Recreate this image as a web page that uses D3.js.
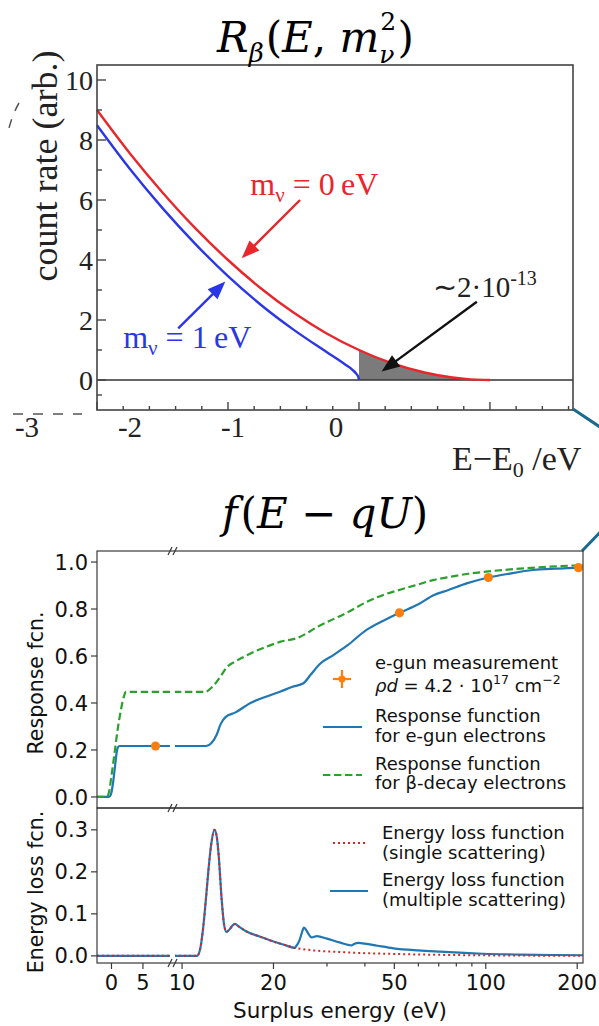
<!DOCTYPE html>
<html><head><meta charset="utf-8">
<script src="https://cdn.jsdelivr.net/npm/d3@7"></script>
<style>body{margin:0;background:#fff} svg{display:block}</style>
</head><body><svg id="c" width="599" height="1026"></svg>
<script>
// ================= DATA =================
// Top panel: beta spectrum near endpoint (E - E0 in eV, count rate arb.)
const specE0 = [-3, -2.75, -2.5, -2.25, -2, -1.75, -1.5, -1.25, -1, -0.75, -0.5, -0.3, -0.15, -0.05, 0];
const rateM0 = [9.0, 7.56, 6.25, 5.06, 4.0, 3.06, 2.25, 1.56, 1.0, 0.56, 0.25, 0.09, 0.02, 0.003, 0];
const specE1 = [-3, -2.75, -2.5, -2.25, -2, -1.75, -1.5, -1.25, -1.1, -1.05, -1.02, -1.005, -1];
const rateM1 = [8.49, 7.04, 5.73, 4.54, 3.46, 2.51, 1.68, 0.94, 0.50, 0.34, 0.205, 0.10, 0];
const topYTicks = [0, 2, 4, 6, 8, 10];
const topYMinor = [-0.5, 1, 3, 5, 7, 9];
const topXMajor = [-3, -2, -1, 0];
const topXMinor = [-2.8,-2.6,-2.4,-2.2,-1.8,-1.6,-1.4,-1.2,-0.8,-0.6,-0.4,-0.2,0.2,0.4,0.6];
const topXLabels = ["-3", "-2", "-1", "0"];
const topXLabelVals = [-3, -2, -1, 0];

// Bottom panel: response function (surplus energy eV)
const respGunE = [-2.3, -0.5, -0.2, 0, 0.3, 0.6, 0.8, 1.0, 1.3, 9.4, 12.0, 12.5, 13.0, 13.4, 13.9, 15.0, 16.8, 19.0, 21.0, 23.0, 25.1, 26.5, 28.6, 31.5, 35.0, 40.5, 46.0, 52.0, 60.0, 67.3, 75.0, 86.5, 102, 120, 143, 170, 202, 209];
const respGun  = [0, 0, 0.004, 0.02, 0.07, 0.14, 0.185, 0.21, 0.217, 0.217, 0.217, 0.23, 0.265, 0.31, 0.34, 0.36, 0.40, 0.428, 0.448, 0.468, 0.484, 0.52, 0.569, 0.604, 0.645, 0.711, 0.75, 0.784, 0.82, 0.859, 0.88, 0.909, 0.934, 0.951, 0.966, 0.972, 0.976, 0.977];
const respBetaE = [-2.3, -0.7, -0.4, 0, 0.5, 1.0, 1.5, 2.0, 2.3, 9.4, 11.9, 12.5, 13.0, 13.5, 14.0, 15.0, 16.0, 17.0, 19.0, 21.0, 24.5, 25.1, 28.0, 31.5, 35.0, 40.5, 46.0, 52.5, 60.0, 67.0, 77.0, 86.5, 100, 130, 160, 209];
const respBeta  = [0, 0, 0.02, 0.09, 0.19, 0.29, 0.37, 0.43, 0.447, 0.447, 0.447, 0.465, 0.49, 0.52, 0.55, 0.577, 0.597, 0.614, 0.64, 0.66, 0.682, 0.689, 0.725, 0.757, 0.785, 0.83, 0.86, 0.883, 0.905, 0.923, 0.938, 0.949, 0.959, 0.972, 0.98, 0.987];
const eGunE = [7, 52, 102, 202];
const eGunV = [0.217, 0.784, 0.934, 0.976];

// Energy loss functions
const lossSingleE = [-2.3, 9.4, 11.2, 11.5, 11.75, 12.0, 12.2, 12.5, 12.78, 13.0, 13.2, 13.5, 13.75, 14.0, 14.3, 14.7, 14.95, 15.3, 16.3, 18, 20, 22, 23.5, 25, 28, 32, 40, 50, 70, 100, 150, 209];
const lossSingle  = [0, 0, 0, 0.02, 0.07, 0.14, 0.2, 0.27, 0.30, 0.285, 0.24, 0.135, 0.075, 0.057, 0.062, 0.073, 0.076, 0.071, 0.058, 0.046, 0.034, 0.025, 0.019, 0.016, 0.012, 0.0095, 0.0065, 0.0045, 0.0025, 0.0012, 0.0005, 0.0002];
const lossMultiE = [-2.3, 9.4, 11.2, 11.5, 11.75, 12.0, 12.2, 12.5, 12.78, 13.0, 13.2, 13.5, 13.75, 14.0, 14.3, 14.7, 14.95, 15.3, 16.3, 18, 20, 22, 23.5, 23.7, 24.3, 24.8, 25.2, 25.6, 26.2, 26.7, 27.8, 30, 33, 36.2, 37, 38.1, 40, 44, 49.7, 60, 70.7, 85, 98, 130, 170, 209];
const lossMulti  = [0, 0, 0, 0.02, 0.07, 0.14, 0.2, 0.27, 0.30, 0.285, 0.24, 0.135, 0.075, 0.057, 0.062, 0.073, 0.076, 0.071, 0.058, 0.046, 0.034, 0.025, 0.019, 0.022, 0.035, 0.055, 0.067, 0.062, 0.05, 0.044, 0.047, 0.041, 0.032, 0.025, 0.029, 0.031, 0.029, 0.024, 0.018, 0.013, 0.01, 0.007, 0.005, 0.003, 0.002, 0.0015];

const respYTicks = [0, 0.2, 0.4, 0.6, 0.8, 1.0];
const lossYTicks = [0, 0.1, 0.2, 0.3];
const xTicksLin = [0, 5];
const xTicksLog = [10, 20, 50, 100, 200];
const xMinorLog = [30, 40, 60, 70, 80, 90];

// ================= DRAW =================
const svg = d3.select("#c");
const SERIF = "'Liberation Serif','Times New Roman',serif";
const MATH = "'DejaVu Serif',serif";
const SANS = "'DejaVu Sans',sans-serif";
const zip = (a, b) => a.map((v, i) => ({e: v, v: b[i]}));

function arrow(g, x1, y1, x2, y2, color) {
  const dx = x2 - x1, dy = y2 - y1, L = Math.hypot(dx, dy), ux = dx / L, uy = dy / L;
  const hl = 18, hw = 7;
  const bx = x2 - ux * hl, by = y2 - uy * hl;
  g.append("line").attr("x1", x1).attr("y1", y1).attr("x2", bx + ux * 2).attr("y2", by + uy * 2)
    .attr("stroke", color).attr("stroke-width", 2.4);
  g.append("path").attr("d", `M${x2},${y2}L${bx - uy * hw},${by + ux * hw}L${bx + uy * hw},${by - ux * hw}Z`).attr("fill", color);
}

// ---------- Top panel ----------
const xT = d3.scaleLinear().domain([-3, 0.634]).range([97, 573]);
const yT = d3.scaleLinear().domain([-1, 10.5]).range([410, 65]);
const xLab = d3.scaleLinear().domain([-3, 0]).range([27, 336]);
const gT = svg.append("g");

// title
const t1 = svg.append("text").attr("x", 217).attr("y", 52).attr("font-family", MATH).attr("font-size", 42).attr("fill", "#000");
t1.append("tspan").attr("font-style", "italic").text("R");
t1.append("tspan").attr("font-style", "italic").attr("font-size", 26).attr("dy", 10).text("β");
t1.append("tspan").attr("dy", -10).attr("dx", 2).text("(");
t1.append("tspan").attr("font-style", "italic").text("E");
t1.append("tspan").text(", ");
t1.append("tspan").attr("font-style", "italic").text("m");
t1.append("tspan").attr("font-style", "italic").attr("font-size", 25).attr("dy", 11).text("ν");
t1.append("tspan").attr("dy", -11).attr("dx", 3).text(")");
const sup2 = svg.append("text").attr("font-family", MATH).attr("font-size", 25).attr("fill", "#000").text("2");
{
  const nodes = t1.selectAll("tspan").nodes();
  let idx = 0; for (let i = 0; i < 6; i++) idx += nodes[i].textContent.length;
  const p = t1.node().getStartPositionOfChar(idx);
  sup2.attr("x", p.x + 1).attr("y", 30);
}

// shaded area
const shaded = zip(specE0, rateM0).filter(d => d.e >= -1);
gT.append("path").datum(shaded)
  .attr("d", d3.area().x(d => xT(d.e)).y0(yT(0)).y1(d => yT(d.v)).curve(d3.curveMonotoneX))
  .attr("fill", "#7b7b7b");

// zero line
gT.append("line").attr("x1", xT(-3)).attr("x2", xT(0.634)).attr("y1", yT(0)).attr("y2", yT(0))
  .attr("stroke", "#333").attr("stroke-width", 1.5);

// curves
const lineT = d3.line().x(d => xT(d.e)).y(d => yT(d.v)).curve(d3.curveMonotoneX);
gT.append("path").datum(zip(specE0, rateM0)).attr("d", lineT).attr("fill", "none").attr("stroke", "#e8262b").attr("stroke-width", 2.4);
gT.append("path").datum(zip(specE1, rateM1)).attr("d", lineT).attr("fill", "none").attr("stroke", "#2b36e6").attr("stroke-width", 2.4);

// frame
gT.append("rect").attr("x", xT(-3)).attr("y", yT(10.5)).attr("width", xT(0.634) - xT(-3)).attr("height", yT(-1) - yT(10.5))
  .attr("fill", "none").attr("stroke", "#444").attr("stroke-width", 1.6);

// y ticks (inside)
topYTicks.forEach(v => {
  gT.append("line").attr("x1", xT(-3)).attr("x2", xT(-3) + 9).attr("y1", yT(v)).attr("y2", yT(v)).attr("stroke", "#444").attr("stroke-width", 1.4);
  gT.append("text").attr("x", 93).attr("y", yT(v)).attr("dy", "0.35em").attr("text-anchor", "end")
    .attr("font-family", SERIF).attr("font-size", 28).attr("fill", "#222").text(v);
});
topYMinor.forEach(v => {
  gT.append("line").attr("x1", xT(-3)).attr("x2", xT(-3) + 5).attr("y1", yT(v)).attr("y2", yT(v)).attr("stroke", "#444").attr("stroke-width", 1.4);
});
// x ticks (inside)
topXMajor.forEach(v => {
  gT.append("line").attr("x1", xT(v)).attr("x2", xT(v)).attr("y1", yT(-1)).attr("y2", yT(-1) - 8).attr("stroke", "#444").attr("stroke-width", 1.4);
});
topXMinor.forEach(v => {
  gT.append("line").attr("x1", xT(v)).attr("x2", xT(v)).attr("y1", yT(-1)).attr("y2", yT(-1) - 4).attr("stroke", "#444").attr("stroke-width", 1.4);
});
topXLabels.forEach((s, i) => {
  gT.append("text").attr("x", xLab(topXLabelVals[i])).attr("y", 437).attr("text-anchor", "middle")
    .attr("font-family", SERIF).attr("font-size", 29).attr("fill", "#222").text(s);
});
// axis labels
gT.append("text").attr("transform", "translate(57,166) rotate(-90)").attr("text-anchor", "middle")
  .attr("font-family", SERIF).attr("font-size", 36).attr("fill", "#222").text("count rate (arb.)");
const xl = gT.append("text").attr("x", 452).attr("y", 470).attr("font-family", SERIF).attr("font-size", 34).attr("fill", "#222");
xl.append("tspan").text("E−E");
xl.append("tspan").attr("font-size", 22).attr("dy", 7).text("0");
xl.append("tspan").attr("dy", -7).text(" /eV");

// annotations
arrow(gT, xT(-1.45), yT(6.0), xT(-1.895), yT(4.06), "#e8262b");
arrow(gT, xT(-2.38), yT(1.72), xT(-2.02), yT(3.28), "#2b36e6");
arrow(gT, xT(-0.10), yT(2.61), xT(-0.827), yT(0.28), "#111");
const lr = gT.append("text").attr("x", xT(-1.83)).attr("y", yT(6.17)).attr("font-family", SERIF).attr("font-size", 32).attr("fill", "#e8262b");
lr.append("tspan").text("m");
lr.append("tspan").attr("font-size", 21).attr("dy", 7).text("ν");
lr.append("tspan").attr("dy", -7).text(" = 0\u2009eV");
const lb = gT.append("text").attr("x", xT(-2.80)).attr("y", yT(1.07)).attr("font-family", SERIF).attr("font-size", 32).attr("fill", "#2b36e6");
lb.append("tspan").text("m");
lb.append("tspan").attr("font-size", 21).attr("dy", 7).text("ν");
lb.append("tspan").attr("dy", -7).text(" = 1\u2009eV");
const lk = gT.append("text").attr("x", xT(-0.435)).attr("y", yT(2.77)).attr("font-family", SERIF).attr("font-size", 29).attr("fill", "#222");
lk.append("tspan").text("∼2·10");
lk.append("tspan").attr("font-size", 20).attr("dy", -12).text("-13");

// cropped-figure remnants and zoom connector lines
svg.append("line").attr("x1", 13).attr("x2", 82).attr("y1", 414).attr("y2", 414).attr("stroke", "#555").attr("stroke-width", 1.5).attr("stroke-dasharray", "10,10");
svg.append("path").attr("d", "M19,103 Q12,115 8,132").attr("fill", "none").attr("stroke", "#555").attr("stroke-width", 1.5).attr("stroke-dasharray", "9,9");
svg.append("line").attr("x1", 573).attr("y1", 409).attr("x2", 606).attr("y2", 431).attr("stroke", "#1b6a8c").attr("stroke-width", 3);
svg.append("line").attr("x1", 582).attr("y1", 551).attr("x2", 606).attr("y2", 526).attr("stroke", "#1b6a8c").attr("stroke-width", 3);

// ---------- Bottom panel ----------
const t2 = svg.append("text").attr("x", 222).attr("y", 528).attr("font-family", MATH).attr("font-size", 42).attr("fill", "#000");
t2.append("tspan").attr("font-style", "italic").text("f");
t2.append("tspan").attr("dx", 3).text("(");
t2.append("tspan").attr("font-style", "italic").text("E");
t2.append("tspan").text(" − ");
t2.append("tspan").attr("font-style", "italic").text("qU");
t2.append("tspan").text(")");

const x1 = d3.scaleLinear().domain([-2.3, 9.3]).range([97, 170]);
const x2 = d3.scaleLog().domain([9.48, 209]).range([175, 583]);
const yR = d3.scaleLinear().domain([-0.047, 1.047]).range([808, 551]);
const yL = d3.scaleLinear().domain([-0.017, 0.352]).range([963, 808]);

const defs = svg.append("defs");
defs.append("clipPath").attr("id", "cl1").append("rect").attr("x", 97).attr("y", 540).attr("width", 73).attr("height", 430);
defs.append("clipPath").attr("id", "cl2").append("rect").attr("x", 175).attr("y", 540).attr("width", 408).attr("height", 430);

function drawSeries(E, V, y, style) {
  const data = zip(E, V);
  [[x1, "cl1", data.filter(d => d.e <= 9.6)], [x2, "cl2", data.filter(d => d.e >= 9.0)]].forEach(([xs, cl, dd]) => {
    const p = svg.append("path").datum(dd).attr("clip-path", `url(#${cl})`)
      .attr("d", d3.line().x(d => xs(d.e)).y(d => y(d.v)).curve(d3.curveMonotoneX))
      .attr("fill", "none").attr("stroke", style.color).attr("stroke-width", style.w);
    if (style.dash) p.attr("stroke-dasharray", style.dash);
  });
}

// Upper subplot
drawSeries(respGunE, respGun, yR, {color: "#1f77b4", w: 2.2});
drawSeries(respBetaE, respBeta, yR, {color: "#2ca02c", w: 2.2, dash: "7.4,3.6"});
zip(eGunE, eGunV).forEach(d => {
  const xs = d.e < 9.4 ? x1 : x2;
  svg.append("circle").attr("cx", xs(d.e)).attr("cy", yR(d.v)).attr("r", 4.6).attr("fill", "#ff7f0e");
});
// Lower subplot
drawSeries(lossMultiE, lossMulti, yL, {color: "#1f77b4", w: 2.2});
drawSeries(lossSingleE, lossSingle, yL, {color: "#d62728", w: 2.0, dash: "2,3"});

// frames
const frameCol = "#3a3a3a";
svg.append("rect").attr("x", 97).attr("y", 551).attr("width", 486).attr("height", 257).attr("fill", "none").attr("stroke", frameCol).attr("stroke-width", 1.2);
svg.append("rect").attr("x", 97).attr("y", 808).attr("width", 486).attr("height", 155).attr("fill", "none").attr("stroke", frameCol).attr("stroke-width", 1.2);
// break marks
[551, 808, 963].forEach(y => {
  [170, 175].forEach(x => {
    svg.append("line").attr("x1", x - 2).attr("y1", y + 4).attr("x2", x + 2).attr("y2", y - 4).attr("stroke", frameCol).attr("stroke-width", 1.2);
  });
});

function yAxisTicks(ticks, y, fmt) {
  ticks.forEach(v => {
    svg.append("line").attr("x1", 91).attr("x2", 97).attr("y1", y(v)).attr("y2", y(v)).attr("stroke", frameCol).attr("stroke-width", 1.2);
    svg.append("text").attr("x", 88).attr("y", y(v)).attr("dy", "0.36em").attr("text-anchor", "end")
      .attr("font-family", SANS).attr("font-size", 21).attr("fill", "#111").text(fmt(v));
  });
}
yAxisTicks(respYTicks, yR, d3.format(".1f"));
yAxisTicks(lossYTicks, yL, d3.format(".1f"));

function xTick(xp, label, len) {
  svg.append("line").attr("x1", xp).attr("x2", xp).attr("y1", 963).attr("y2", 963 + len).attr("stroke", frameCol).attr("stroke-width", 1.2);
  if (label !== null) svg.append("text").attr("x", xp).attr("y", 990).attr("text-anchor", "middle")
    .attr("font-family", SANS).attr("font-size", 21).attr("fill", "#111").text(label);
}
xTicksLin.forEach(v => xTick(x1(v), v, 6));
xTicksLog.forEach(v => xTick(x2(v), v, 6));
xMinorLog.forEach(v => xTick(x2(v), null, 3.5));

// axis labels
svg.append("text").attr("transform", "translate(43,683) rotate(-90)").attr("text-anchor", "middle")
  .attr("font-family", SANS).attr("font-size", 20.5).attr("fill", "#111").text("Response fcn.");
svg.append("text").attr("transform", "translate(43,892) rotate(-90)").attr("text-anchor", "middle")
  .attr("font-family", SANS).attr("font-size", 20.5).attr("fill", "#111").text("Energy loss fcn.");
svg.append("text").attr("x", 340).attr("y", 1018).attr("text-anchor", "middle")
  .attr("font-family", SANS).attr("font-size", 21.5).attr("fill", "#111").text("Surplus energy (eV)");

// legends
const LF = 18;
function ltext(x, y, s) {
  return svg.append("text").attr("x", x).attr("y", y).attr("font-family", SANS).attr("font-size", LF).attr("fill", "#111").text(s);
}
// e-gun marker
svg.append("line").attr("x1", 333).attr("x2", 351).attr("y1", 679).attr("y2", 679).attr("stroke", "#ff7f0e").attr("stroke-width", 2.2);
svg.append("line").attr("x1", 342).attr("x2", 342).attr("y1", 670).attr("y2", 688).attr("stroke", "#ff7f0e").attr("stroke-width", 2.2);
svg.append("circle").attr("cx", 342).attr("cy", 679).attr("r", 3.5).attr("fill", "#ff7f0e");
ltext(375, 669, "e-gun measurement");
const rho = svg.append("text").attr("x", 375).attr("y", 692).attr("font-family", SANS).attr("font-size", LF).attr("fill", "#111");
rho.append("tspan").attr("font-style", "italic").text("ρd");
rho.append("tspan").text(" = 4.2 · 10");
rho.append("tspan").attr("font-size", 12.5).attr("dy", -8).text("17");
rho.append("tspan").attr("dy", 8).text(" cm");
rho.append("tspan").attr("font-size", 12.5).attr("dy", -8).text("−2");
svg.append("line").attr("x1", 323).attr("x2", 362).attr("y1", 727).attr("y2", 727).attr("stroke", "#1f77b4").attr("stroke-width", 2.2);
ltext(375, 722, "Response function");
ltext(375, 742, "for e-gun electrons");
svg.append("line").attr("x1", 323).attr("x2", 362).attr("y1", 775).attr("y2", 775).attr("stroke", "#2ca02c").attr("stroke-width", 2.2).attr("stroke-dasharray", "7.4,3.6");
ltext(375, 770, "Response function");
ltext(375, 789, "for β-decay electrons");

svg.append("line").attr("x1", 333).attr("x2", 368).attr("y1", 843).attr("y2", 843).attr("stroke", "#d62728").attr("stroke-width", 2).attr("stroke-dasharray", "2,3");
ltext(382, 839, "Energy loss function");
ltext(382, 859, "(single scattering)");
svg.append("line").attr("x1", 330).attr("x2", 368).attr("y1", 891).attr("y2", 891).attr("stroke", "#1f77b4").attr("stroke-width", 2.2);
ltext(382, 886, "Energy loss function");
ltext(382, 906, "(multiple scattering)");
</script>
</body></html>
